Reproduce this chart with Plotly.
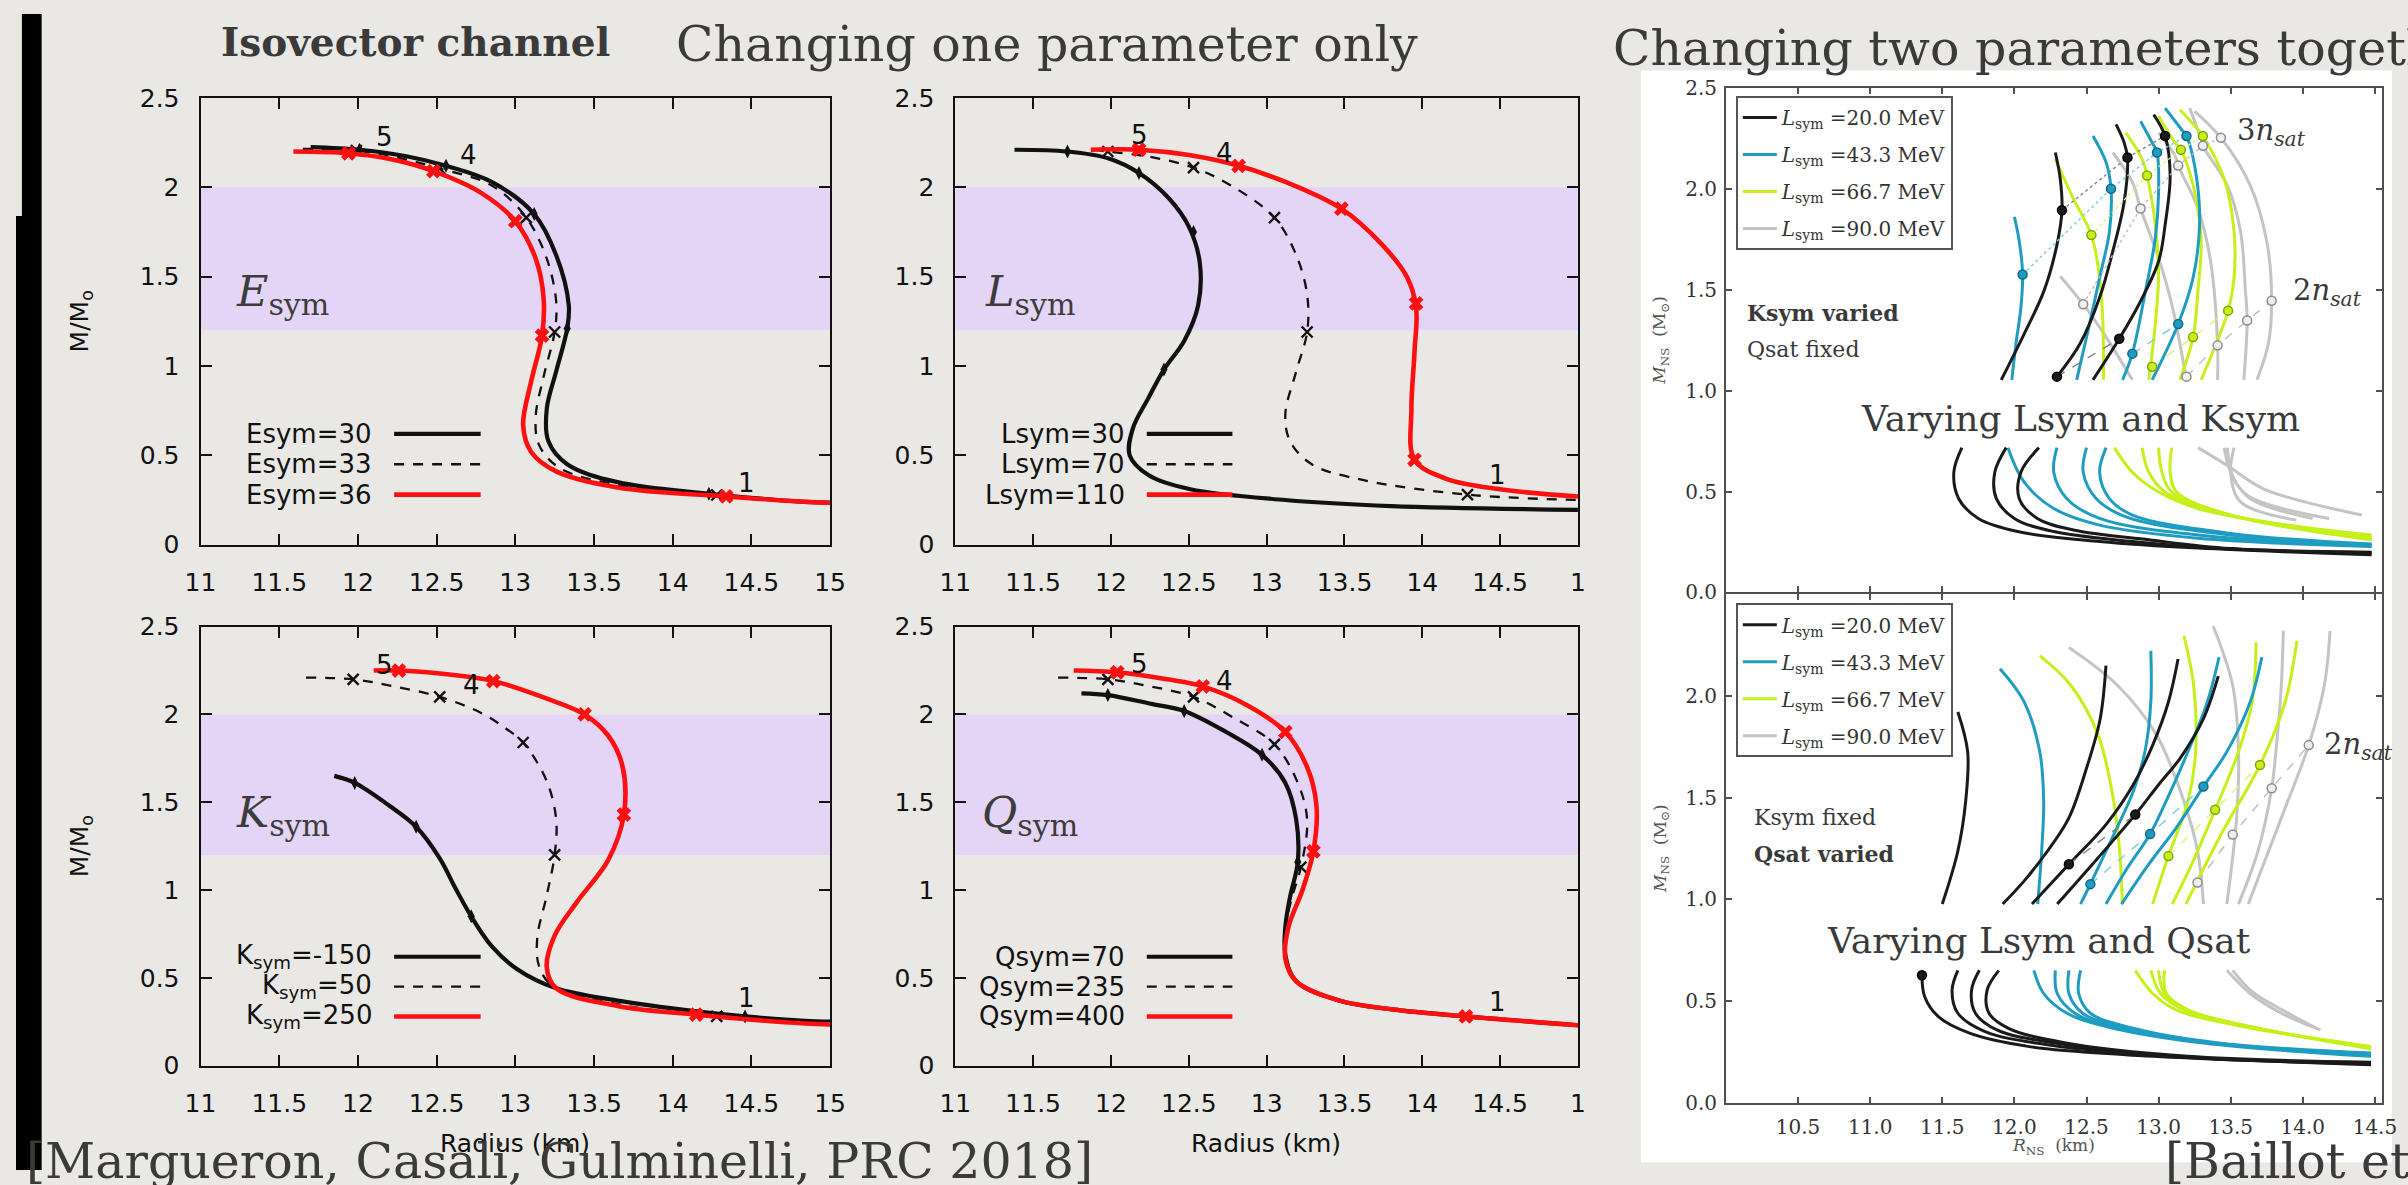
import plotly.graph_objects as go

W, H = 2408, 1185

# ------------------------------------------------------------------
# Margueron, Casali, Gulminelli (PRC 2018): M(R) curves, one parameter varied
# ------------------------------------------------------------------
RADIUS_TICKS = [11, 11.5, 12, 12.5, 13, 13.5, 14, 14.5, 15]
RADIUS_LABELS_COL1 = ["11", "11.5", "12", "12.5", "13", "13.5", "14", "14.5", "15"]
RADIUS_LABELS_COL2 = ["11", "11.5", "12", "12.5", "13", "13.5", "14", "14.5", "1"]
MASS_TICKS = [0, 0.5, 1, 1.5, 2, 2.5]
MASS_LABELS = ["0", "0.5", "1", "1.5", "2", "2.5"]
NS_BAND = [1.2, 2.0]
POINT_LABELS = ["5", "4", "1"]

# Esym panel
ESYM30_R = [11.70, 12.01, 12.30, 12.56, 12.85, 13.12, 13.26, 13.34, 13.33, 13.26, 13.20, 13.21, 13.33, 13.65, 14.23, 14.84, 15.0]
ESYM30_M = [2.225, 2.21, 2.175, 2.12, 2.03, 1.85, 1.62, 1.34, 1.21, 0.97, 0.76, 0.58, 0.45, 0.35, 0.285, 0.24, 0.235]
ESYM30_PR = [12.01, 12.56, 13.12, 13.33, 14.23]
ESYM30_PM = [2.21, 2.12, 1.85, 1.21, 0.285]
ESYM33_R = [11.65, 11.99, 12.26, 12.52, 12.85, 13.07, 13.20, 13.26, 13.25, 13.18, 13.13, 13.15, 13.28, 13.65, 14.28, 14.85, 15.0]
ESYM33_M = [2.215, 2.205, 2.165, 2.105, 2.01, 1.83, 1.60, 1.36, 1.19, 0.94, 0.72, 0.56, 0.43, 0.335, 0.278, 0.24, 0.235]
ESYM33_PR = [11.99, 12.52, 13.07, 13.25, 14.28]
ESYM33_PM = [2.205, 2.105, 1.83, 1.19, 0.278]
ESYM36_R = [11.59, 11.94, 12.22, 12.48, 12.78, 13.0, 13.13, 13.18, 13.17, 13.10, 13.05, 13.10, 13.26, 13.65, 14.34, 14.84, 15.0]
ESYM36_M = [2.20, 2.19, 2.155, 2.09, 1.97, 1.81, 1.60, 1.38, 1.17, 0.91, 0.67, 0.52, 0.41, 0.32, 0.27, 0.24, 0.235]
ESYM36_PR = [11.94, 12.48, 13.0, 13.17, 14.34]
ESYM36_PM = [2.19, 2.09, 1.81, 1.17, 0.27]
ESYM_LABEL_R = [12.17, 12.70, 14.47]
ESYM_LABEL_M = [2.28, 2.18, 0.345]

# Lsym panel
LSYM30_R = [11.38, 11.72, 11.99, 12.18, 12.37, 12.50, 12.57, 12.56, 12.47, 12.34, 12.24, 12.14, 12.12, 12.24, 12.51, 13.12, 13.8, 15.0]
LSYM30_M = [2.21, 2.20, 2.16, 2.08, 1.94, 1.78, 1.58, 1.34, 1.14, 0.98, 0.82, 0.65, 0.50, 0.39, 0.31, 0.25, 0.216, 0.195]
LSYM30_PR = [11.72, 12.18, 12.53, 12.34]
LSYM30_PM = [2.20, 2.08, 1.75, 0.98]
LSYM70_R = [11.89, 11.98, 12.25, 12.53, 12.77, 13.05, 13.19, 13.26, 13.26, 13.19, 13.12, 13.15, 13.29, 13.63, 14.29, 15.0]
LSYM70_M = [2.21, 2.20, 2.17, 2.11, 2.01, 1.83, 1.62, 1.40, 1.19, 0.97, 0.73, 0.58, 0.45, 0.36, 0.28, 0.25]
LSYM70_PR = [11.98, 12.53, 13.05, 13.26, 14.29]
LSYM70_PM = [2.20, 2.11, 1.83, 1.19, 0.28]
LSYM110_R = [11.87, 12.18, 12.5, 12.82, 13.12, 13.48, 13.74, 13.90, 13.96, 13.95, 13.93, 13.95, 14.15, 14.5, 15.0]
LSYM110_M = [2.21, 2.21, 2.18, 2.12, 2.03, 1.88, 1.68, 1.50, 1.33, 1.08, 0.76, 0.475, 0.37, 0.31, 0.27]
LSYM110_PR = [12.18, 12.82, 13.48, 13.96, 13.95]
LSYM110_PM = [2.21, 2.12, 1.88, 1.35, 0.475]
LSYM_LABEL_R = [12.18, 12.73, 14.48]
LSYM_LABEL_M = [2.29, 2.19, 0.39]

# Ksym panel
KSYMM150_R = [11.85, 11.98, 12.2, 12.37, 12.52, 12.62, 12.72, 12.85, 13.01, 13.26, 13.65, 14.14, 14.46, 14.84, 15.0]
KSYMM150_M = [1.65, 1.61, 1.48, 1.36, 1.18, 1.01, 0.85, 0.68, 0.55, 0.44, 0.37, 0.31, 0.28, 0.255, 0.25]
KSYMM150_PR = [11.98, 12.37, 12.72, 14.46]
KSYMM150_PM = [1.61, 1.36, 0.85, 0.28]
KSYM50_R = [11.67, 11.97, 12.23, 12.52, 12.78, 12.94, 13.05, 13.2, 13.26, 13.25, 13.2, 13.14, 13.15, 13.23, 13.65, 14.28, 14.84, 15.0]
KSYM50_M = [2.21, 2.20, 2.16, 2.10, 2.01, 1.92, 1.84, 1.62, 1.40, 1.20, 0.97, 0.73, 0.57, 0.46, 0.35, 0.28, 0.25, 0.245]
KSYM50_PR = [11.97, 12.52, 13.05, 13.25, 14.28]
KSYM50_PM = [2.20, 2.10, 1.84, 1.20, 0.28]
KSYM250_R = [12.1, 12.26, 12.55, 12.86, 13.2, 13.44, 13.59, 13.68, 13.69, 13.59, 13.39, 13.25, 13.2, 13.26, 13.65, 14.15, 14.84, 15.0]
KSYM250_M = [2.25, 2.25, 2.23, 2.19, 2.09, 2.00, 1.88, 1.71, 1.43, 1.17, 0.93, 0.74, 0.56, 0.44, 0.34, 0.29, 0.24, 0.235]
KSYM250_PR = [12.26, 12.86, 13.44, 13.69, 14.15]
KSYM250_PM = [2.25, 2.19, 2.00, 1.43, 0.29]
KSYM_LABEL_R = [12.17, 12.72, 14.47]
KSYM_LABEL_M = [2.28, 2.17, 0.385]

# Qsym panel
QSYM70_R = [11.81, 11.98, 12.26, 12.47, 12.74, 12.97, 13.12, 13.19, 13.2, 13.15, 13.12, 13.12, 13.19, 13.47, 13.81, 14.28, 15.0]
QSYM70_M = [2.12, 2.11, 2.06, 2.02, 1.90, 1.77, 1.61, 1.40, 1.16, 0.96, 0.79, 0.63, 0.48, 0.37, 0.32, 0.28, 0.23]
QSYM70_PR = [11.98, 12.47, 12.97, 13.2]
QSYM70_PM = [2.11, 2.02, 1.77, 1.16]
QSYM235_R = [11.66, 11.98, 12.25, 12.53, 12.79, 13.05, 13.2, 13.26, 13.22, 13.16, 13.12, 13.12, 13.19, 13.47, 13.81, 14.28, 15.0]
QSYM235_M = [2.21, 2.20, 2.16, 2.10, 1.98, 1.83, 1.61, 1.40, 1.13, 0.95, 0.78, 0.62, 0.48, 0.37, 0.32, 0.28, 0.23]
QSYM235_PR = [11.98, 12.53, 13.05, 13.22]
QSYM235_PM = [2.20, 2.10, 1.83, 1.13]
QSYM400_R = [11.76, 12.04, 12.36, 12.59, 12.88, 13.12, 13.26, 13.32, 13.3, 13.23, 13.14, 13.12, 13.19, 13.47, 13.81, 14.28, 15.0]
QSYM400_M = [2.25, 2.24, 2.20, 2.16, 2.05, 1.90, 1.70, 1.48, 1.22, 1.00, 0.79, 0.61, 0.48, 0.37, 0.32, 0.28, 0.23]
QSYM400_PR = [12.04, 12.59, 13.12, 13.3, 14.28]
QSYM400_PM = [2.24, 2.16, 1.90, 1.22, 0.28]
QSYM_LABEL_R = [12.18, 12.73, 14.48]
QSYM_LABEL_M = [2.29, 2.19, 0.36]

# ------------------------------------------------------------------
# Baillot et al.: two parameters varied together (R in km, M in Msun)
# ------------------------------------------------------------------
RNS_TICKS = [10.5, 11.0, 11.5, 12.0, 12.5, 13.0, 13.5, 14.0, 14.5]
MNS_TICKS_TOP = [0.0, 0.5, 1.0, 1.5, 2.0, 2.5]
MNS_TICKS_BOTTOM = [0.0, 0.5, 1.0, 1.5, 2.0]
LSYM_VALUES = ["20.0", "43.3", "66.7", "90.0"]

# Ksym varied, Qsat fixed : branches above and below the caption
KV_BLACK_UP = [
    ([12.284, 12.318, 12.33, 12.295, 12.205, 12.068, 11.909], [2.181, 2.05, 1.895, 1.723, 1.495, 1.282, 1.054]),
    ([12.705, 12.761, 12.784, 12.761, 12.682, 12.591, 12.455, 12.295], [2.32, 2.23, 2.156, 1.936, 1.691, 1.462, 1.233, 1.07]),
    ([12.966, 13.045, 13.08, 13.045, 13.0, 12.864, 12.727, 12.545], [2.369, 2.263, 2.067, 1.821, 1.642, 1.429, 1.258, 1.054]),
]
KV_TEAL_UP = [
    ([12.0, 12.034, 12.057, 12.045, 12.011, 11.982], [1.862, 1.74, 1.576, 1.413, 1.233, 1.054]),
    ([12.545, 12.636, 12.67, 12.659, 12.591, 12.511, 12.432], [2.263, 2.132, 2.001, 1.789, 1.56, 1.299, 1.054]),
    ([12.875, 12.955, 12.989, 13.0, 12.977, 12.909, 12.818, 12.75], [2.336, 2.23, 2.181, 1.985, 1.756, 1.495, 1.184, 1.054]),
    ([13.045, 13.159, 13.193, 13.261, 13.284, 13.239, 13.136, 12.955], [2.401, 2.295, 2.263, 2.067, 1.821, 1.56, 1.331, 1.054]),
]
KV_YELLOW_UP = [
    ([12.284, 12.409, 12.534, 12.591, 12.614, 12.618], [2.148, 1.952, 1.772, 1.56, 1.331, 1.054]),
    ([12.773, 12.886, 12.92, 12.977, 13.0, 12.977, 12.932], [2.279, 2.148, 2.067, 1.821, 1.576, 1.331, 1.054]),
    ([13.0, 13.114, 13.155, 13.25, 13.295, 13.273, 13.239, 13.148], [2.361, 2.23, 2.194, 1.985, 1.74, 1.495, 1.266, 1.054]),
    ([13.148, 13.273, 13.307, 13.455, 13.523, 13.523, 13.482, 13.295], [2.393, 2.295, 2.263, 2.05, 1.789, 1.56, 1.397, 1.054]),
]
KV_GREY_UP = [
    ([12.318, 12.477, 12.636, 12.818], [1.568, 1.429, 1.266, 1.054]),
    ([12.682, 12.818, 12.875, 13.0, 13.091, 13.193], [2.181, 2.034, 1.903, 1.658, 1.429, 1.054]),
    ([13.0, 13.114, 13.136, 13.273, 13.364, 13.409, 13.409], [2.279, 2.165, 2.116, 1.903, 1.625, 1.225, 1.054]),
    ([13.216, 13.295, 13.307, 13.477, 13.568, 13.602, 13.614, 13.591], [2.401, 2.246, 2.214, 2.017, 1.789, 1.495, 1.348, 1.054]),
    ([13.25, 13.432, 13.636, 13.75, 13.784, 13.761, 13.682], [2.385, 2.254, 2.017, 1.74, 1.446, 1.233, 1.054]),
]
KV_BLACK_LOW = [
    ([11.636, 11.58, 11.614, 11.75, 12.023, 12.591, 13.273, 14.477], [0.718, 0.596, 0.465, 0.367, 0.302, 0.253, 0.22, 0.187]),
    ([11.943, 11.864, 11.875, 12.0, 12.273, 12.818, 13.5, 14.477], [0.718, 0.596, 0.465, 0.367, 0.302, 0.253, 0.215, 0.196]),
    ([12.17, 12.045, 12.034, 12.159, 12.409, 12.932, 13.5, 14.477], [0.718, 0.596, 0.465, 0.367, 0.31, 0.261, 0.218, 0.2]),
]
KV_TEAL_LOW = [
    ([11.955, 12.068, 12.273, 12.591, 13.273, 14.477], [0.718, 0.547, 0.416, 0.334, 0.269, 0.228]),
    ([12.295, 12.273, 12.364, 12.591, 13.273, 14.477], [0.718, 0.596, 0.465, 0.367, 0.285, 0.233]),
    ([12.5, 12.477, 12.568, 12.773, 13.5, 14.477], [0.718, 0.596, 0.465, 0.375, 0.285, 0.236]),
    ([12.636, 12.591, 12.659, 12.818, 13.5, 14.477], [0.718, 0.596, 0.465, 0.384, 0.293, 0.24]),
]
KV_YELLOW_LOW = [
    ([12.693, 12.818, 13.0, 13.273, 13.727, 14.477], [0.718, 0.596, 0.498, 0.416, 0.351, 0.285]),
    ([12.886, 12.932, 13.045, 13.386, 14.477], [0.718, 0.596, 0.498, 0.4, 0.277]),
    ([13.0, 13.023, 13.091, 13.455, 14.477], [0.718, 0.596, 0.498, 0.392, 0.269]),
    ([13.091, 13.08, 13.125, 13.5, 14.477], [0.718, 0.596, 0.498, 0.384, 0.261]),
]
KV_GREY_LOW = [
    ([13.273, 13.477, 13.727, 14.409], [0.718, 0.629, 0.514, 0.384]),
    ([13.455, 13.5, 13.614, 14.182], [0.718, 0.596, 0.482, 0.367]),
    ([13.523, 13.5, 13.568, 13.955], [0.718, 0.596, 0.449, 0.359]),
    ([13.477, 13.511, 13.636, 14.068], [0.718, 0.58, 0.465, 0.367]),
]
# central densities 3 n_sat and 2 n_sat along the curves
KV_BLACK_3N = ([12.33, 12.784, 13.045], [1.895, 2.156, 2.263])
KV_BLACK_2N = ([12.295, 12.727], [1.07, 1.258])
KV_TEAL_3N = ([12.057, 12.67, 12.989, 13.193], [1.576, 2.001, 2.181, 2.263])
KV_TEAL_2N = ([12.818, 13.136], [1.184, 1.331])
KV_YELLOW_3N = ([12.534, 12.92, 13.155, 13.307], [1.772, 2.067, 2.194, 2.263])
KV_YELLOW_2N = ([12.955, 13.239, 13.482], [1.119, 1.266, 1.397])
KV_GREY_3N = ([12.477, 12.875, 13.136, 13.307, 13.432], [1.429, 1.903, 2.116, 2.214, 2.254])
KV_GREY_2N = ([13.193, 13.409, 13.614, 13.784], [1.07, 1.225, 1.348, 1.446])

# Ksym fixed, Qsat varied
QV_BLACK_UP = [
    ([11.608, 11.676, 11.662, 11.608, 11.5], [1.922, 1.726, 1.482, 1.238, 0.977]),
    ([12.635, 12.595, 12.5, 12.378, 12.23, 12.068, 11.919], [2.15, 1.889, 1.645, 1.401, 1.238, 1.091, 0.977]),
    ([13.135, 13.068, 12.959, 12.824, 12.635, 12.378, 12.122], [2.182, 1.971, 1.759, 1.564, 1.368, 1.173, 0.977]),
    ([13.414, 13.311, 13.149, 13.0, 12.838, 12.581, 12.297], [2.098, 1.889, 1.694, 1.564, 1.417, 1.205, 0.977]),
]
QV_TEAL_UP = [
    ([11.9, 12.068, 12.176, 12.203, 12.189, 12.162], [2.134, 1.971, 1.726, 1.482, 1.238, 0.977]),
    ([12.946, 12.946, 12.905, 12.824, 12.689, 12.527, 12.459], [2.223, 1.971, 1.726, 1.531, 1.319, 1.075, 0.977]),
    ([13.419, 13.338, 13.203, 13.041, 12.941, 12.77, 12.635], [2.191, 1.971, 1.726, 1.466, 1.322, 1.14, 0.977]),
    ([13.716, 13.635, 13.473, 13.311, 13.122, 12.932, 12.743], [2.191, 1.971, 1.726, 1.555, 1.352, 1.173, 0.977]),
]
QV_YELLOW_UP = [
    ([12.176, 12.392, 12.581, 12.689, 12.73, 12.749], [2.199, 2.052, 1.808, 1.482, 1.238, 0.977]),
    ([13.176, 13.243, 13.257, 13.203, 13.068, 12.959], [2.296, 2.052, 1.726, 1.482, 1.213, 0.977]),
    ([13.676, 13.649, 13.554, 13.392, 13.23, 13.095], [2.264, 1.971, 1.726, 1.441, 1.173, 0.977]),
    ([13.959, 13.878, 13.703, 13.446, 13.189], [2.272, 1.971, 1.661, 1.336, 0.977]),
]
QV_GREY_UP = [
    ([12.378, 12.716, 12.986, 13.176, 13.27, 13.311], [2.239, 2.052, 1.808, 1.482, 1.238, 0.977]),
    ([13.378, 13.514, 13.554, 13.541, 13.473], [2.345, 2.052, 1.726, 1.401, 0.977]),
    ([13.865, 13.851, 13.824, 13.784, 13.689, 13.554], [2.321, 2.052, 1.808, 1.547, 1.238, 0.977]),
    ([14.189, 14.149, 14.041, 13.851, 13.622], [2.321, 2.052, 1.759, 1.401, 0.977]),
]
QV_BLACK_LOW = [
    ([11.359, 11.378, 11.473, 11.689, 12.095, 12.77, 14.473], [0.627, 0.521, 0.423, 0.342, 0.277, 0.236, 0.187]),
    ([11.608, 11.568, 11.608, 11.797, 12.23, 13.2, 14.473], [0.651, 0.554, 0.44, 0.35, 0.285, 0.222, 0.191]),
    ([11.757, 11.703, 11.73, 11.878, 12.284, 13.2, 14.473], [0.651, 0.554, 0.44, 0.358, 0.293, 0.225, 0.195]),
    ([11.892, 11.811, 11.824, 11.959, 12.338, 13.2, 14.473], [0.651, 0.554, 0.44, 0.366, 0.296, 0.228, 0.199]),
]
QV_TEAL_LOW = [
    ([12.135, 12.203, 12.365, 12.635, 13.311, 14.473], [0.651, 0.537, 0.44, 0.375, 0.293, 0.228]),
    ([12.284, 12.297, 12.419, 12.716, 13.4, 14.473], [0.651, 0.537, 0.44, 0.366, 0.29, 0.236]),
    ([12.378, 12.378, 12.473, 12.77, 13.4, 14.473], [0.651, 0.537, 0.44, 0.366, 0.292, 0.241]),
    ([12.459, 12.446, 12.527, 12.824, 13.4, 14.473], [0.651, 0.537, 0.44, 0.366, 0.295, 0.244]),
]
QV_YELLOW_LOW = [
    ([12.838, 12.959, 13.122, 13.581, 14.473], [0.651, 0.537, 0.456, 0.375, 0.277]),
    ([12.946, 13.014, 13.176, 13.65, 14.473], [0.651, 0.537, 0.456, 0.37, 0.274]),
    ([13.0, 13.041, 13.203, 13.68, 14.473], [0.651, 0.537, 0.456, 0.368, 0.269]),
    ([13.041, 13.054, 13.23, 13.7, 14.473], [0.651, 0.537, 0.448, 0.365, 0.265]),
]
QV_GREY_LOW = [
    ([13.473, 13.635, 13.851, 14.122], [0.651, 0.537, 0.44, 0.358]),
    ([13.514, 13.649, 13.878, 14.095], [0.651, 0.546, 0.448, 0.366]),
]
QV_BLACK_2N = ([12.378, 12.838], [1.173, 1.417])
QV_TEAL_2N = ([12.527, 12.941, 13.311], [1.075, 1.322, 1.555])
QV_YELLOW_2N = ([13.068, 13.392, 13.703], [1.213, 1.441, 1.661])
QV_GREY_2N = ([13.27, 13.514, 13.784, 14.041], [1.083, 1.319, 1.547, 1.759])
QV_BLACK_END = ([11.359], [0.627])

# ------------------------------------------------------------------
# styling
# ------------------------------------------------------------------
SLIDE_BG = "#e9e8e4"
BAND = "#e4d5f7"
INK = "#111111"
RED = "#ff1010"
GNU_FONT = "DejaVu Sans"
SERIF = "DejaVu Serif"
TITLE_INK = "#3a3a3a"

COL = {
    "black": dict(line="#1a1a1a", fill="#1a1a1a", edge="#000000", guide="#808080", rank=1),
    "teal": dict(line="#1f9cc2", fill="#1f9cc2", edge="#136a84", guide="#7ccbe3", rank=2),
    "yellow": dict(line="#c6f01a", fill="#c6f01a", edge="#86a30f", guide="#d9f47d", rank=3),
    "grey": dict(line="#c4c4c4", fill="#eeeeee", edge="#8c8c8c", guide="#bdbdbd", rank=4),
}


def px_x(p):
    return p / W


def px_y(p):
    return 1 - p / H


def note(x, y, text, font, xref="paper", yref="paper", xanchor="center", yanchor="middle", **kw):
    return dict(x=x, y=y, xref=xref, yref=yref, text=text, font=font, showarrow=False,
                xanchor=xanchor, yanchor=yanchor, **kw)


# subplot boxes in pixels: (left, right, top, bottom)
BOX = {
    1: (187, 825, 86, 544),
    2: (952, 1583, 86, 544),
    3: (187, 825, 628, 1078),
    4: (952, 1583, 628, 1078),
    5: (1733, 2398, 76, 593),
    6: (1733, 2398, 595, 1116),
}
RIGHT_RANGE = [10.0, 14.55]

fig = go.Figure()
shapes = []
annotations = []


def axkey(kind, i):
    return kind + ("axis" if i == 1 else "axis%d" % i)


def ref(kind, i):
    return kind if i == 1 else "%s%d" % (kind, i)


# ---------------- left four panels ----------------
STYLE = {
    "solid": dict(line=dict(color=INK, width=4.2),
                  marker=dict(symbol="diamond-tall", size=10, color=INK)),
    "dash": dict(line=dict(color=INK, width=2.3, dash="10px,9px"),
                 marker=dict(symbol="x-thin", size=11, color=INK, line=dict(color=INK, width=2.4))),
    "red": dict(line=dict(color=RED, width=4.6),
                marker=dict(symbol="x", size=13, color=RED, line=dict(width=0))),
}
LEGEND_ROWS = [0.62, 0.45, 0.28]
LEGEND_TEXT_R = 12.10
LEGEND_LINE_R = (12.23, 12.78)

left_panels = [
    dict(i=1, tag="<i>E</i><sub>sym</sub>", tag_at=(11.21, 1.40),
         curves=[(ESYM30_R, ESYM30_M, ESYM30_PR, ESYM30_PM, "solid", "Esym=30"),
                 (ESYM33_R, ESYM33_M, ESYM33_PR, ESYM33_PM, "dash", "Esym=33"),
                 (ESYM36_R, ESYM36_M, ESYM36_PR, ESYM36_PM, "red", "Esym=36")],
         labels=(ESYM_LABEL_R, ESYM_LABEL_M), ticks=RADIUS_LABELS_COL1),
    dict(i=2, tag="<i>L</i><sub>sym</sub>", tag_at=(11.18, 1.40),
         curves=[(LSYM30_R, LSYM30_M, LSYM30_PR, LSYM30_PM, "solid", "Lsym=30"),
                 (LSYM70_R, LSYM70_M, LSYM70_PR, LSYM70_PM, "dash", "Lsym=70"),
                 (LSYM110_R, LSYM110_M, LSYM110_PR, LSYM110_PM, "red", "Lsym=110")],
         labels=(LSYM_LABEL_R, LSYM_LABEL_M), ticks=RADIUS_LABELS_COL2),
    dict(i=3, tag="<i>K</i><sub>sym</sub>", tag_at=(11.21, 1.43),
         curves=[(KSYMM150_R, KSYMM150_M, KSYMM150_PR, KSYMM150_PM, "solid", "K<sub>sym</sub>=-150"),
                 (KSYM50_R, KSYM50_M, KSYM50_PR, KSYM50_PM, "dash", "K<sub>sym</sub>=50"),
                 (KSYM250_R, KSYM250_M, KSYM250_PR, KSYM250_PM, "red", "K<sub>sym</sub>=250")],
         labels=(KSYM_LABEL_R, KSYM_LABEL_M), ticks=RADIUS_LABELS_COL1),
    dict(i=4, tag="<i>Q</i><sub>sym</sub>", tag_at=(11.16, 1.43),
         curves=[(QSYM70_R, QSYM70_M, QSYM70_PR, QSYM70_PM, "solid", "Qsym=70"),
                 (QSYM235_R, QSYM235_M, QSYM235_PR, QSYM235_PM, "dash", "Qsym=235"),
                 (QSYM400_R, QSYM400_M, QSYM400_PR, QSYM400_PM, "red", "Qsym=400")],
         labels=(QSYM_LABEL_R, QSYM_LABEL_M), ticks=RADIUS_LABELS_COL2),
]

axis_layout = {}
for p in left_panels:
    i = p["i"]
    l, r, t, b = BOX[i]
    xr, yr = ref("x", i), ref("y", i)
    common = dict(showline=True, linewidth=2, linecolor=INK, mirror="ticks",
                  ticks="inside", ticklen=11, tickwidth=2, tickcolor=INK,
                  showgrid=False, zeroline=False,
                  tickfont=dict(family=GNU_FONT, size=25, color=INK))
    axis_layout[axkey("x", i)] = dict(domain=[px_x(l), px_x(r)], range=[11, 15], anchor=yr,
                                      tickvals=RADIUS_TICKS, ticktext=p["ticks"],
                                      ticklabelstandoff=14, **common)
    axis_layout[axkey("y", i)] = dict(domain=[px_y(b), px_y(t)], range=[0, 2.5], anchor=xr,
                                      tickvals=MASS_TICKS, ticktext=MASS_LABELS,
                                      ticklabelstandoff=14, **common)
    # observational mass band
    shapes.append(dict(type="rect", xref=xr, yref=yr, x0=11, x1=15, y0=NS_BAND[0], y1=NS_BAND[1],
                       fillcolor=BAND, line=dict(width=0), layer="below"))
    for k, (R, M, PR, PM, style, name) in enumerate(p["curves"]):
        st = STYLE[style]
        fig.add_trace(go.Scatter(x=R, y=M, mode="lines", xaxis=xr, yaxis=yr,
                                 line=dict(shape="spline", smoothing=1.0, **st["line"]),
                                 showlegend=False, hoverinfo="skip"))
        fig.add_trace(go.Scatter(x=PR, y=PM, mode="markers", xaxis=xr, yaxis=yr,
                                 marker=st["marker"], showlegend=False, hoverinfo="skip"))
        # hand-placed key, text left of the sample line
        yrow = LEGEND_ROWS[k]
        shapes.append(dict(type="line", xref=xr, yref=yr, x0=LEGEND_LINE_R[0], x1=LEGEND_LINE_R[1],
                           y0=yrow, y1=yrow, line=st["line"], layer="above"))
        annotations.append(note(LEGEND_TEXT_R, yrow, name, dict(family=GNU_FONT, size=26, color=INK),
                                xref=xr, yref=yr, xanchor="right"))
    for txt, lx, ly in zip(POINT_LABELS, p["labels"][0], p["labels"][1]):
        annotations.append(note(lx, ly, txt, dict(family=GNU_FONT, size=26, color=INK), xref=xr, yref=yr))
    annotations.append(note(p["tag_at"][0], p["tag_at"][1], p["tag"],
                            dict(family=SERIF, size=43, color="#3c3c3c"), xref=xr, yref=yr, xanchor="left"))

# axis titles of the left block
for yc in (315, 853):
    annotations.append(note(px_x(66), px_y(yc), "M/M<sub>o</sub>",
                            dict(family=GNU_FONT, size=25, color=INK), textangle=-90))
for xc in (506, 1267):
    annotations.append(note(px_x(xc), px_y(1158), "Radius (km)", dict(family=GNU_FONT, size=25, color=INK)))

# ---------------- right two panels ----------------
shapes.append(dict(type="rect", xref="paper", yref="paper", x0=px_x(1647), x1=1.0,
                   y0=px_y(1177), y1=px_y(58), fillcolor="#ffffff", line=dict(width=0), layer="below"))

right_panels = [
    dict(i=5, legend="legend", ticks=MNS_TICKS_TOP, xlabels=False,
         up={"black": KV_BLACK_UP, "teal": KV_TEAL_UP, "yellow": KV_YELLOW_UP, "grey": KV_GREY_UP},
         low={"black": KV_BLACK_LOW, "teal": KV_TEAL_LOW, "yellow": KV_YELLOW_LOW, "grey": KV_GREY_LOW},
         guides=[("black", KV_BLACK_3N, "dot"), ("black", KV_BLACK_2N, "dash"),
                 ("teal", KV_TEAL_3N, "dot"), ("teal", KV_TEAL_2N, "dash"),
                 ("yellow", KV_YELLOW_3N, "dot"), ("yellow", KV_YELLOW_2N, "dash"),
                 ("grey", KV_GREY_3N, "dot"), ("grey", KV_GREY_2N, "dash")],
         extra=[]),
    dict(i=6, legend="legend2", ticks=MNS_TICKS_BOTTOM, xlabels=True,
         up={"black": QV_BLACK_UP, "teal": QV_TEAL_UP, "yellow": QV_YELLOW_UP, "grey": QV_GREY_UP},
         low={"black": QV_BLACK_LOW, "teal": QV_TEAL_LOW, "yellow": QV_YELLOW_LOW, "grey": QV_GREY_LOW},
         guides=[("black", QV_BLACK_2N, "dash"), ("teal", QV_TEAL_2N, "dash"),
                 ("yellow", QV_YELLOW_2N, "dash"), ("grey", QV_GREY_2N, "dash")],
         extra=[("black", QV_BLACK_END)]),
]

DRAW_ORDER = ["grey", "yellow", "teal", "black"]
for p in right_panels:
    i = p["i"]
    l, r, t, b = BOX[i]
    xr, yr = ref("x", i), ref("y", i)
    common = dict(showline=True, linewidth=2, linecolor="#505050", mirror="ticks",
                  ticks="inside", ticklen=6, tickwidth=1.5, tickcolor="#505050",
                  showgrid=False, zeroline=False,
                  tickfont=dict(family=SERIF, size=20, color="#333333"))
    axis_layout[axkey("x", i)] = dict(domain=[px_x(l), px_x(r)], range=RIGHT_RANGE, anchor=yr,
                                      tickvals=RNS_TICKS, tickformat=".1f",
                                      showticklabels=p["xlabels"], ticklabelstandoff=5, **common)
    axis_layout[axkey("y", i)] = dict(domain=[px_y(b), px_y(t)], range=[0, 2.5], anchor=xr,
                                      tickvals=p["ticks"], tickformat=".1f",
                                      ticklabelstandoff=3, **common)
    for c in DRAW_ORDER:
        cs = COL[c]
        for k, (R, M) in enumerate(p["up"][c]):
            fig.add_trace(go.Scatter(
                x=R, y=M, mode="lines", xaxis=xr, yaxis=yr,
                line=dict(color=cs["line"], width=3.0, shape="spline", smoothing=1.0),
                name="<i>L</i><sub>sym</sub> =%s MeV" % LSYM_VALUES[cs["rank"] - 1],
                legend=p["legend"], legendgroup="%s%d" % (c, i), legendrank=cs["rank"],
                showlegend=(k == 0), hoverinfo="skip"))
        for R, M in p["low"][c]:
            fig.add_trace(go.Scatter(
                x=R, y=M, mode="lines", xaxis=xr, yaxis=yr,
                line=dict(color=cs["line"], width=3.0, shape="spline", smoothing=1.0),
                showlegend=False, hoverinfo="skip"))
    for c, (R, M), dash in p["guides"]:
        cs = COL[c]
        fig.add_trace(go.Scatter(x=R, y=M, mode="lines", xaxis=xr, yaxis=yr,
                                 line=dict(color=cs["guide"], width=1.4, dash=dash),
                                 showlegend=False, hoverinfo="skip"))
    for c, (R, M), dash in p["guides"] + [(e[0], e[1], None) for e in p["extra"]]:
        cs = COL[c]
        fig.add_trace(go.Scatter(x=R, y=M, mode="markers", xaxis=xr, yaxis=yr,
                                 marker=dict(symbol="circle", size=9, color=cs["fill"],
                                             line=dict(color=cs["edge"], width=1.5)),
                                 showlegend=False, hoverinfo="skip"))

legend_common = dict(xanchor="left", yanchor="top", bgcolor="#ffffff", bordercolor="#555555",
                     borderwidth=2, font=dict(family=SERIF, size=20, color="#333333"),
                     traceorder="grouped", tracegroupgap=8, itemwidth=34)
layout_legends = dict(
    legend=dict(x=px_x(1743), y=px_y(84), **legend_common),
    legend2=dict(x=px_x(1743), y=px_y(604), **legend_common),
)

# captions inside the right panels
right_text = [
    (5, 12.46, 0.86, "Varying Lsym and Ksym", 36, "center"),
    (6, 12.17, 0.80, "Varying Lsym and Qsat", 36, "center"),
    (5, 10.13, 1.385, "<b>Ksym varied</b>", 22, "left"),
    (5, 10.13, 1.205, "Qsat fixed", 22, "left"),
    (6, 10.18, 1.405, "Ksym fixed", 22, "left"),
    (6, 10.18, 1.225, "<b>Qsat varied</b>", 22, "left"),
    (5, 13.53, 2.285, "3<i>n</i><sub><i>sat</i></sub>", 29, "left"),
    (5, 13.92, 1.49, "2<i>n</i><sub><i>sat</i></sub>", 29, "left"),
    (6, 14.13, 1.755, "2<i>n</i><sub><i>sat</i></sub>", 29, "left"),
]
for i, x, y, txt, size, anchor in right_text:
    annotations.append(note(x, y, txt, dict(family=SERIF, size=size, color="#3a3a3a"),
                            xref=ref("x", i), yref=ref("y", i), xanchor=anchor))

for yc in (335, 856):
    annotations.append(note(px_x(1667), px_y(yc), "<i>M</i><sub>NS</sub>  (M<sub>\u2299</sub>)",
                            dict(family=SERIF, size=17, color="#555555"), textangle=-90))
annotations.append(note(px_x(2065), px_y(1161), "<i>R</i><sub>NS</sub>  (km)",
                        dict(family=SERIF, size=17, color="#555555")))

# ---------------- slide titles and references ----------------
annotations += [
    note(px_x(405), px_y(29), "<b>Isovector channel</b>", dict(family=SERIF, size=39, color=TITLE_INK)),
    note(px_x(1045), px_y(31), "Changing one parameter only", dict(family=SERIF, size=49, color=TITLE_INK)),
    note(px_x(1616), px_y(35), "Changing two parameters together", dict(family=SERIF, size=49, color=TITLE_INK),
         xanchor="left"),
    note(px_x(8), px_y(1176), "[Margueron, Casali, Gulminelli, PRC 2018]",
         dict(family=SERIF, size=49, color=TITLE_INK), xanchor="left"),
    note(px_x(2176), px_y(1176), "[Baillot et al.]", dict(family=SERIF, size=49, color=TITLE_INK),
         xanchor="left"),
]

# dark frame strip on the left edge
shapes += [
    dict(type="rect", xref="paper", yref="paper", x0=0, x1=px_x(26), y0=0, y1=1,
         fillcolor="#000000", line=dict(width=0), layer="above"),
    dict(type="rect", xref="paper", yref="paper", x0=0, x1=px_x(6), y0=px_y(207), y1=1,
         fillcolor="#e6e6e3", line=dict(width=0), layer="above"),
]

fig.update_layout(
    width=W, height=H, margin=dict(l=0, r=0, t=0, b=0, pad=0),
    paper_bgcolor=SLIDE_BG, plot_bgcolor="rgba(0,0,0,0)",
    shapes=shapes, annotations=annotations, hovermode=False,
    **axis_layout, **layout_legends,
)

fig.write_html("out.html", include_plotlyjs=True, full_html=True, config={"displayModeBar": False})
